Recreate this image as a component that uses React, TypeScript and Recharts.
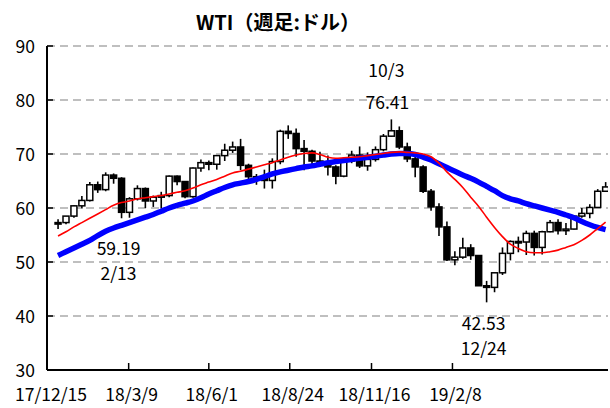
import React from 'react';
import { ComposedChart, Bar, Line, XAxis, YAxis, CartesianGrid, ReferenceDot } from 'recharts';

// Weekly WTI candles, 2017/12/15 .. 2019/4/12
const OPEN = [57.2, 57.3, 58.5, 60.4, 61.4, 64.3, 63.4, 66.1, 65.5, 59.2, 61.7, 63.6, 61.3, 62.0, 62.3, 65.9, 64.9, 62.1, 67.4, 68.4, 68.1, 69.7, 70.7, 71.3, 67.9, 65.8, 65.7, 65.1, 68.6, 74.2, 73.8, 71.0, 70.5, 68.7, 68.5, 67.6, 65.9, 68.7, 69.8, 67.8, 69.0, 70.8, 73.3, 74.3, 71.3, 69.1, 67.6, 63.1, 60.2, 56.5, 50.4, 50.9, 52.6, 51.2, 45.6, 45.3, 48.0, 51.6, 53.8, 53.7, 55.3, 52.7, 55.6, 57.3, 55.8, 56.1, 58.5, 59.0, 60.1, 63.1];
const HIGH = [57.9, 58.5, 60.5, 62.2, 64.8, 64.9, 66.6, 66.4, 65.7, 62.0, 64.2, 63.8, 62.3, 63.0, 66.0, 66.0, 65.0, 67.5, 69.0, 68.8, 69.8, 71.9, 72.3, 72.8, 68.2, 66.3, 67.1, 69.2, 74.5, 75.3, 74.7, 72.6, 70.8, 70.4, 69.7, 67.9, 69.0, 70.6, 71.4, 70.3, 71.4, 73.7, 76.41, 75.1, 72.1, 69.5, 67.9, 63.5, 60.9, 57.5, 52.0, 54.5, 53.3, 51.2, 46.5, 48.0, 52.7, 54.0, 54.7, 55.8, 55.8, 55.8, 57.8, 57.9, 57.2, 58.7, 60.0, 60.7, 63.5, 64.8];
const LOW = [56.1, 57.0, 58.2, 59.9, 61.2, 62.8, 63.1, 64.5, 58.1, 58.2, 61.4, 60.0, 60.2, 59.9, 62.0, 64.2, 61.8, 61.9, 66.7, 67.0, 67.1, 68.7, 70.2, 67.0, 65.0, 64.3, 63.6, 63.6, 68.1, 72.8, 69.5, 67.0, 67.7, 67.9, 66.0, 64.4, 65.7, 68.3, 67.4, 66.9, 68.6, 70.5, 73.2, 70.9, 68.5, 65.7, 62.8, 59.5, 54.8, 50.2, 49.4, 50.6, 50.4, 45.6, 42.53, 44.4, 47.6, 50.3, 51.8, 51.3, 51.2, 51.4, 55.5, 55.1, 55.0, 56.0, 58.2, 58.1, 60.0, 63.0];
const CLOSE = [57.3, 58.5, 60.4, 61.4, 64.3, 63.4, 66.1, 65.5, 59.2, 61.7, 63.6, 61.3, 62.0, 62.3, 65.9, 64.9, 62.1, 67.4, 68.4, 68.1, 69.7, 70.7, 71.3, 67.9, 65.8, 65.7, 65.1, 68.6, 74.2, 73.8, 71.0, 70.5, 68.7, 68.5, 67.6, 65.9, 68.7, 69.8, 67.8, 69.0, 70.8, 73.3, 74.3, 71.3, 69.1, 67.6, 63.1, 60.2, 56.5, 50.4, 50.9, 52.6, 51.2, 45.6, 45.3, 48.0, 51.6, 53.8, 53.7, 55.3, 52.7, 55.6, 57.3, 55.8, 56.1, 58.5, 59.0, 60.1, 63.1, 63.9];
// 13-week (red) and 26-week (blue) moving averages
const MA13 = [54.8, 55.6, 56.5, 57.3, 58.1, 58.9, 59.7, 60.5, 61.0, 61.3, 61.7, 61.9, 62.1, 62.3, 62.6, 62.9, 63.2, 63.7, 64.3, 64.8, 65.3, 65.9, 66.5, 66.8, 67.2, 67.6, 68.0, 68.4, 68.9, 69.4, 69.8, 70.1, 70.2, 69.9, 69.4, 69.2, 69.3, 69.4, 69.5, 69.7, 69.9, 70.1, 70.3, 70.4, 70.3, 70.2, 70.0, 69.5, 68.3, 66.7, 65.3, 63.8, 62.0, 60.3, 58.3, 56.4, 54.7, 53.3, 52.5, 51.9, 51.7, 51.7, 51.9, 52.2, 52.7, 53.2, 54.0, 55.0, 56.2, 57.4];
const MA26 = [51.2, 51.9, 52.6, 53.3, 54.0, 54.9, 55.7, 56.3, 56.8, 57.3, 57.8, 58.3, 58.8, 59.4, 60.0, 60.5, 60.9, 61.3, 61.9, 62.6, 63.2, 63.8, 64.3, 64.6, 64.9, 65.3, 65.8, 66.3, 66.7, 67.0, 67.3, 67.6, 67.8, 68.1, 68.4, 68.6, 68.8, 69.0, 69.2, 69.4, 69.6, 69.8, 70.0, 70.1, 70.1, 69.9, 69.4, 68.9, 68.2, 67.5, 66.8, 66.1, 65.5, 64.8, 64.0, 63.2, 62.3, 61.7, 61.3, 60.8, 60.4, 60.0, 59.6, 59.2, 58.7, 58.2, 57.5, 56.9, 56.4, 56.0];

const X_TICK_LABELS = ['17/12/15', '18/3/9', '18/6/1', '18/8/24', '18/11/16', '19/2/8'];
const X_TICK_POS = [-1.39, 8.9, 19.0, 29.2, 39.5, 49.7];
const Y_TICKS = [30, 40, 50, 60, 70, 80, 90];

const ANNOTATIONS = [
  { i: 42, value: '76.41', date: '10/3', above: true },
  { i: 8, value: '59.19', date: '2/13', above: false },
  { i: 54, value: '42.53', date: '12/24', above: false },
];

const FONT = "'Noto Sans CJK JP', 'Noto Sans', sans-serif";

const data = OPEN.map((o, i) => ({
  i,
  o,
  h: HIGH[i],
  l: LOW[i],
  c: CLOSE[i],
  range: [LOW[i], HIGH[i]],
  ma13: MA13[i],
  ma26: MA26[i],
}));

const Candle = (props: any) => {
  const { x, y, width, height, payload } = props;
  if (x == null || y == null) return null;
  const top = Math.min(y, y + height);
  const bot = Math.max(y, y + height);
  const { o, h, l, c } = payload;
  const py = (v: number) => (h === l ? top : top + ((h - v) / (h - l)) * (bot - top));
  const cx = x + width / 2;
  const yo = py(o);
  const yc = py(c);
  const bTop = Math.min(yo, yc);
  const bH = Math.max(Math.abs(yo - yc), 1.5);
  const up = c >= o;
  return (
    <g>
      <line x1={cx} x2={cx} y1={top} y2={bot} stroke="#000" strokeWidth={1.6} />
      <rect x={x} y={bTop} width={width} height={bH} fill={up ? '#fff' : '#000'} stroke="#000" strokeWidth={1.5} />
    </g>
  );
};

const XTick = (props: any) => {
  const { x, y, payload } = props;
  const idx = X_TICK_POS.indexOf(payload.value);
  const label = idx >= 0 ? X_TICK_LABELS[idx] : '';
  return (
    <g>
      {idx > 0 && <line x1={x} x2={x} y1={y} y2={y - 7} stroke="#000" strokeWidth={1.5} />}
      <text x={x + (idx === 0 ? 4 : 3)} y={y + 23} textAnchor="middle" dominantBaseline="central" fontFamily={FONT} fontSize={17.5} fill="#000">
        {label}
      </text>
    </g>
  );
};

const YTick = (props: any) => {
  const { x, y, payload } = props;
  return (
    <g>
      <line x1={x} x2={x + 6} y1={y} y2={y} stroke="#000" strokeWidth={1.5} />
      <text x={x - 12} y={y - 1} textAnchor="end" dominantBaseline="central" fontFamily={FONT} fontSize={17.5} fill="#000">
        {payload.value}
      </text>
    </g>
  );
};

const annotationShape = (a: { value: string; date: string; above: boolean }) => (p: any) => {
  const { cx, cy } = p;
  const style = { fontFamily: FONT, fontSize: 17.5, fill: '#000' };
  if (a.above) {
    return (
      <g>
        <text x={cx - 5} y={cy - 50} textAnchor="middle" dominantBaseline="central" {...style}>{a.date}</text>
        <text x={cx - 4} y={cy - 18} textAnchor="middle" dominantBaseline="central" {...style}>{a.value}</text>
      </g>
    );
  }
  const off = a.date === '12/24' ? 20 : 29;
  return (
    <g>
      <text x={cx - 3} y={cy + off} textAnchor="middle" dominantBaseline="central" {...style}>{a.value}</text>
      <text x={cx - 3} y={cy + off + 25} textAnchor="middle" dominantBaseline="central" {...style}>{a.date}</text>
    </g>
  );
};

export default function App() {
  return (
    <div style={{ position: 'absolute', left: 0, top: 0, width: 610, height: 408, background: '#fff' }}>
      <div
        style={{
          position: 'absolute',
          left: 178,
          top: 8,
          width: 200,
          textAlign: 'center',
          fontFamily: FONT,
          fontWeight: 700,
          fontSize: 20,
          lineHeight: '28px',
          color: '#000',
        }}
      >
        WTI（週足:ドル）
      </div>
      <ComposedChart width={610} height={408} data={data} margin={{ top: 46, right: 2, left: 7, bottom: 0 }}>
        <CartesianGrid horizontal vertical={false} stroke="#808080" strokeDasharray="8 5" strokeWidth={1.2} />
        <XAxis
          dataKey="i"
          type="number"
          domain={[-1.39, 69.3]}
          allowDataOverflow
          ticks={X_TICK_POS}
          interval={0}
          height={38}
          tickSize={0}
          tickMargin={0}
          tickLine={false}
          axisLine={{ stroke: '#000', strokeWidth: 2 }}
          tick={<XTick />}
        />
        <YAxis
          type="number"
          domain={[30, 90]}
          ticks={Y_TICKS}
          interval={0}
          width={40}
          tickSize={0}
          tickMargin={0}
          tickLine={false}
          axisLine={{ stroke: '#000', strokeWidth: 2 }}
          tick={<YTick />}
        />
        <Bar dataKey="range" barSize={6} shape={<Candle />} isAnimationActive={false} />
        <Line type="monotone" dataKey="ma26" stroke="#0000ff" strokeWidth={5.5} dot={false} activeDot={false} isAnimationActive={false} />
        <Line type="monotone" dataKey="ma13" stroke="#ff0000" strokeWidth={1.6} dot={false} activeDot={false} isAnimationActive={false} />
        {ANNOTATIONS.map((a) => (
          <ReferenceDot
            key={a.date}
            x={a.i}
            y={a.above ? HIGH[a.i] : LOW[a.i]}
            r={0}
            shape={annotationShape(a)}
            ifOverflow="visible"
          />
        ))}
      </ComposedChart>
    </div>
  );
}
